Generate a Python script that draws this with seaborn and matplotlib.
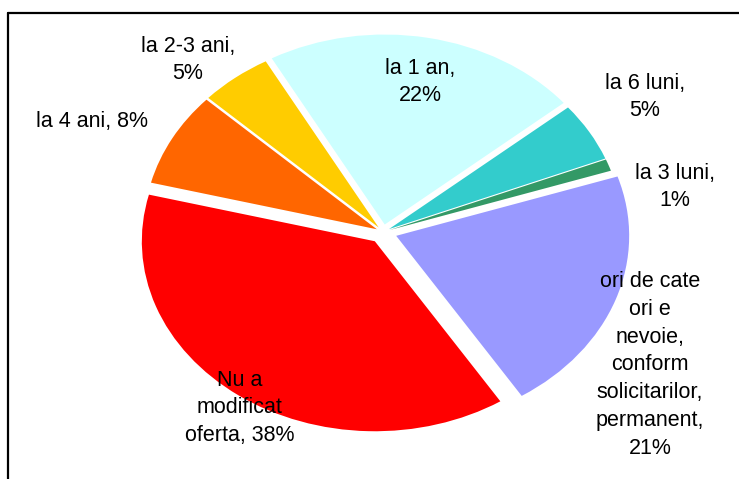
import matplotlib
matplotlib.use("Agg")
import matplotlib.pyplot as plt
import seaborn as sns
from matplotlib.lines import Line2D

sns.set_theme(style="white")
plt.rcParams['font.family'] = ['Liberation Sans', 'DejaVu Sans']

# Data (clockwise order)
labels = ["la 1 an", "la 6 luni", "la 3 luni",
          "ori de cate\nori e\nnevoie,\nconform\nsolicitarilor,\npermanent",
          "Nu a\nmodificat\noferta", "la 4 ani", "la 2-3 ani"]
values = [22, 5, 1, 21, 38, 8, 5]
colors = ["#CCFFFF", "#33CCCC", "#339966", "#9999FF", "#FF0000", "#FF6600", "#FFCC00"]
explode = [0.04, 0.03, 0.03, 0.06, 0.06, 0.03, 0.03]

# label layout (data coords), and joiner between name and percent
label_pos = [(0.159, 0.789), (1.124, 0.711), (1.253, 0.237), (1.146, -0.70),
             (-0.614, -0.926), (-1.249, 0.579), (-0.837, 0.905)]
joiners = [",\n", ",\n", ",\n", ",\n", ", ", ", ", ",\n"]

W, H = 739, 479
fig = plt.figure(figsize=(W / 100, H / 100), dpi=100)
ax = fig.add_axes([0, 0, 1, 1])

cx, cy, rx, ry = 383, 232, 233, 190
ax.pie(values, colors=colors, explode=explode, startangle=119, counterclock=False,
       wedgeprops=dict(linewidth=0))
ax.set_aspect('auto')
ax.set_xlim(-cx / rx, (W - cx) / rx)
ax.set_ylim((cy - H) / ry, cy / ry)
ax.axis('off')

for lab, v, (x, y), j in zip(labels, values, label_pos, joiners):
    ax.text(x, y, f"{lab}{j}{v}%", ha='center', va='center', fontsize=15.5,
            color='black', linespacing=1.42, multialignment='center')

# outer frame
fig.add_artist(Line2D([7.5 / W, 7.5 / W], [0, 1 - 12.5 / H], transform=fig.transFigure,
                      color='black', linewidth=1.6))
fig.add_artist(Line2D([7.5 / W, 1], [1 - 12.5 / H, 1 - 12.5 / H], transform=fig.transFigure,
                      color='black', linewidth=1.6))

fig.savefig("out.png", dpi=100, facecolor='white')
